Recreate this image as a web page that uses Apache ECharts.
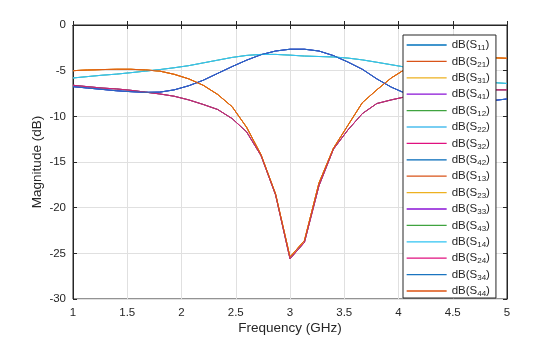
<!DOCTYPE html>
<html>
<head>
<meta charset="utf-8">
<script src="https://cdn.jsdelivr.net/npm/echarts@6/dist/echarts.min.js"></script>
<style>html,body{margin:0;padding:0;background:#fff}#c{width:560px;height:337px}</style>
</head>
<body>
<div id="c"></div>
<script>
const freq = [1.000, 1.133, 1.267, 1.400, 1.533, 1.667, 1.800, 1.933, 2.067, 2.200, 2.333, 2.467, 2.600, 2.733, 2.867, 3.000, 3.133, 3.267, 3.400, 3.533, 3.667, 3.800, 3.933, 4.067, 4.200, 4.333, 4.467, 4.600, 4.733, 4.867, 5.000];
// blue curve with a peak near 3.1 GHz
const curveA = [-6.75, -6.9, -7.05, -7.2, -7.3, -7.37, -7.35, -7.1, -6.65, -6.05, -5.3, -4.55, -3.85, -3.25, -2.85, -2.65, -2.65, -2.85, -3.35, -4.05, -4.85, -5.9, -6.8, -7.5, -7.9, -8.1, -8.25, -8.3, -8.32, -8.28, -8.1];
// light blue flat curve
const curveB = [-5.8, -5.65, -5.5, -5.38, -5.22, -5.05, -4.88, -4.68, -4.45, -4.15, -3.85, -3.55, -3.33, -3.22, -3.22, -3.3, -3.4, -3.45, -3.5, -3.62, -3.82, -4.08, -4.35, -4.62, -4.95, -5.3, -5.6, -5.9, -6.1, -6.3, -6.4];
// orange curve with dip at 3 GHz
const curveC = [-5.0, -4.93, -4.88, -4.85, -4.85, -4.92, -5.05, -5.4, -5.9, -6.6, -7.6, -8.95, -11.2, -14.2, -18.5, -25.4, -23.6, -17.3, -13.5, -11.0, -8.5, -7.1, -5.8, -4.8, -4.3, -4.0, -3.8, -3.7, -3.6, -3.58, -3.65];
// magenta curve with dip at 3 GHz
const curveD = [-6.6, -6.75, -6.9, -7.0, -7.15, -7.35, -7.55, -7.8, -8.2, -8.7, -9.25, -10.25, -11.7, -14.3, -18.6, -25.6, -23.8, -17.6, -13.6, -11.5, -9.7, -8.6, -8.2, -7.85, -7.6, -7.4, -7.3, -7.2, -7.15, -7.1, -7.1];

const names = ['dB(S11)','dB(S21)','dB(S31)','dB(S41)','dB(S12)','dB(S22)','dB(S32)','dB(S42)','dB(S13)','dB(S23)','dB(S33)','dB(S43)','dB(S14)','dB(S24)','dB(S34)','dB(S44)'];
const curveOf = [curveA, curveC, curveC, curveD, curveB, curveB, curveD, curveA, curveC, curveC, curveA, curveD, curveB, curveD, curveA, curveC];
const colors = ['#0072BD','#D95319','#EDB120','#8A12D6','#3FA33F','#4DBEEE','#E0107F','#0068B8','#D95319','#EDB120','#8A12D6','#3FA33F','#2FC3F2','#E0107F','#1A74C0','#DD5210'];

const series = names.map((n, k) => ({
  name: n,
  type: 'line',
  data: freq.map((f, i) => [f, curveOf[k][i]]),
  symbol: 'none',
  showSymbol: false,
  lineStyle: { width: 0.9, color: colors[k] },
  itemStyle: { color: colors[k] },
  color: colors[k],
  xAxisIndex: 0, yAxisIndex: 0,
  silent: true
}));

const axisCol = '#262626';
const font = 'Liberation Sans, Arial, Helvetica, sans-serif';
const chart = echarts.init(document.getElementById('c'), null, { renderer: 'canvas' });
chart.setOption({
  animation: false,
  backgroundColor: '#fff',
  grid: { left: 73, right: 53, top: 25, bottom: 38, containLabel: false, outerBoundsMode: 'none', show: true, borderColor: axisCol, borderWidth: 1, backgroundColor: 'transparent' },
  xAxis: [{
    type: 'value', min: 1, max: 5, interval: 0.5,
    name: 'Frequency (GHz)', nameLocation: 'middle', nameGap: 22, nameMoveOverlap: false,
    nameTextStyle: { fontSize: 13.5, color: axisCol, fontFamily: font },
    axisLine: { show: true, lineStyle: { color: axisCol, width: 1 } },
    axisTick: { show: true, inside: true, length: 4, lineStyle: { color: axisCol } },
    axisLabel: { fontSize: 11.5, color: axisCol, margin: 8, fontFamily: font },
    splitLine: { show: true, lineStyle: { color: '#e0e0e0', width: 1 } }
  }, {
    type: 'value', min: 1, max: 5, interval: 0.5, position: 'top',
    axisLine: { show: true, lineStyle: { color: axisCol, width: 1 } },
    axisTick: { show: true, inside: true, length: 4, lineStyle: { color: axisCol } },
    axisLabel: { show: false }, splitLine: { show: false }
  }],
  yAxis: [{
    type: 'value', min: -30, max: 0, interval: 5,
    name: 'Magnitude (dB)', nameLocation: 'middle', nameGap: 29, nameMoveOverlap: false,
    nameTextStyle: { fontSize: 13.5, color: axisCol, fontFamily: font },
    axisLine: { show: true, lineStyle: { color: axisCol, width: 1 } },
    axisTick: { show: true, inside: true, length: 4, lineStyle: { color: axisCol } },
    axisLabel: { fontSize: 11.5, color: axisCol, margin: 7, fontFamily: font },
    splitLine: { show: true, lineStyle: { color: '#e0e0e0', width: 1 } }
  }, {
    type: 'value', min: -30, max: 0, interval: 5, position: 'right',
    axisLine: { show: true, lineStyle: { color: axisCol, width: 1 } },
    axisTick: { show: true, inside: true, length: 4, lineStyle: { color: axisCol } },
    axisLabel: { show: false }, splitLine: { show: false }
  }],
  legend: {
    orient: 'vertical', left: 403, top: 35,
    itemWidth: 40, itemHeight: 14, itemGap: 3.4,
    padding: [4, 6, 0, 3],
    backgroundColor: '#fff', borderColor: axisCol, borderWidth: 1, borderRadius: 0,
    selectedMode: false,
    itemStyle: { opacity: 0 },
    lineStyle: { width: 1.3, opacity: 1 },
    data: names,
    formatter: function (n) {
      const m = n.match(/^dB\(S(\d\d)\)$/);
      return '{t|dB(S}{s|' + m[1] + '}{t|)}';
    },
    textStyle: {
      fontFamily: font, color: '#000', fontSize: 11.5,
      rich: {
        t: { fontSize: 11.5, lineHeight: 14, color: '#262626', fontFamily: font },
        s: { fontSize: 8, lineHeight: 8, verticalAlign: 'bottom', color: '#262626', fontFamily: font }
      }
    }
  },
  series: series
});
</script>
</body>
</html>
